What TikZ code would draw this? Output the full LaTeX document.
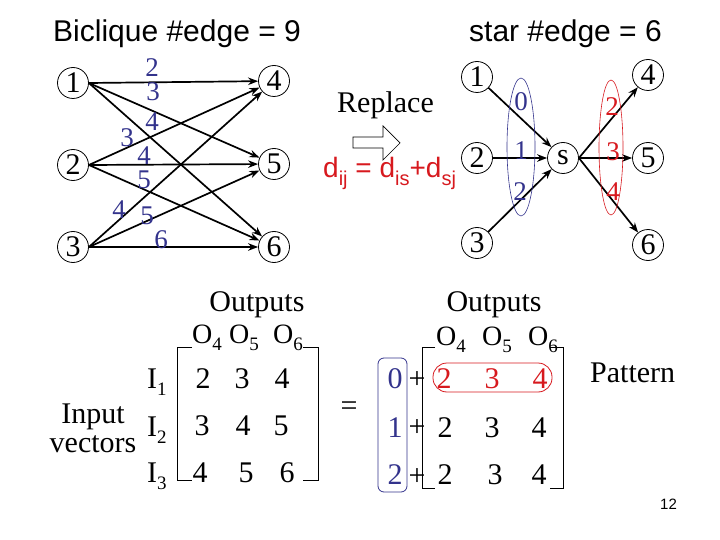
\documentclass[tikz,border=0pt]{standalone}
\usepackage{fontspec}
\setmainfont{Liberation Serif}
\newfontfamily\arial{Liberation Sans}
\usetikzlibrary{arrows.meta,shapes.geometric}
\definecolor{myblue}{RGB}{51,51,140}
\definecolor{myred}{RGB}{215,25,30}
\newcommand\dn[1]{\raisebox{-7pt}{\fontsize{19}{19}\selectfont #1}}
\newcommand\sdn[1]{\raisebox{-8pt}{\fontsize{20}{20}\selectfont #1}}
\newcommand\fsz[1]{\fontsize{#1}{#1}\selectfont}
\tikzset{
  vert/.style={circle, draw, line width=0.8pt, minimum size=31pt, inner sep=0pt, font=\fsz{30}},
  arr/.style={line width=1.7pt, -{Stealth[length=10pt,width=7.5pt]}},
  bl/.style={text=myblue, font=\fsz{27}, inner sep=0pt},
  rd/.style={text=myred, font=\fsz{27}, inner sep=0pt},
  txt/.style={font=\fsz{30}, inner sep=0pt, anchor=base},
  otxt/.style={font=\fsz{28}, inner sep=0pt, anchor=base west},
  sanstxt/.style={font=\arial\fsz{30}, inner sep=0pt},
  brk/.style={line width=1pt},
}
\begin{document}
\begin{tikzpicture}[x=1pt,y=-1pt]
\useasboundingbox (0,0) rectangle (720,540);

% titles
\node[sanstxt, anchor=base west] (t1) at (53,42) {Biclique \#edge = 9};
\node[sanstxt, anchor=base east] (t2) at (662,42) {star \#edge = 6};

% biclique
\node[vert] (a1) at (73,83) {1};
\node[vert] (a2) at (73,165) {2};
\node[vert] (a3) at (73,247) {3};
\node[vert] (b4) at (274,81) {4};
\node[vert] (b5) at (274,164) {5};
\node[vert] (b6) at (274,247) {6};
\foreach \s in {a1,a2,a3}{
  \foreach \t in {b4,b5,b6}{
    \draw[arr] (\s.east) -- (\t);
  }
}
\node[bl] (l14) at (152,68) {2};
\node[bl] (l15) at (153,92) {3};
\node[bl] (l16) at (152,122) {4};
\node[bl] (l24) at (127,138) {3};
\node[bl] (l25) at (144,156) {4};
\node[bl] (l26) at (144,180) {5};
\node[bl] (l34) at (119,210) {4};
\node[bl] (l35) at (147,216) {5};
\node[bl] (l36) at (161,240) {6};

% replace
\node[txt, anchor=base west] (rep) at (337,113) {Replace};
\draw[line width=0.7pt] (353,137) -- (383,137) -- (383,126) -- (400,143) -- (383,160) -- (383,148) -- (353,148) -- cycle;
\node[font=\arial\fsz{28}, text=myred, inner sep=0pt, anchor=base west] (form) at (323,178) {d\sdn{ij} = d\sdn{is}+d\sdn{sj}};

% star
\node[vert] (c1) at (477,77) {1};
\node[vert] (c2) at (477,158) {2};
\node[vert] (c3) at (477,243) {3};
\node[vert] (s) at (563,158) {s};
\node[vert] (d4) at (648,75) {4};
\node[vert] (d5) at (648,158) {5};
\node[vert] (d6) at (648,245) {6};
\draw[arr] (c1) -- (s);
\draw[arr] (c2) -- (s);
\draw[arr] (c3) -- (s);
\draw[arr] (s.east) -- (d4);
\draw[arr] (s.east) -- (d5);
\draw[arr] (s.east) -- (d6);
\draw[myblue, line width=0.6pt] (521,147) ellipse [x radius=14, y radius=69];
\draw[myred, line width=0.6pt] (611,147.5) ellipse [x radius=12, y radius=67.5];
\node[bl] (w0) at (521,102) {0};
\node[bl] (w1) at (521,151) {1};
\node[bl] (w2) at (520,192) {2};
\node[rd] (v2) at (612,107) {2};
\node[rd] (v3) at (613,152) {3};
\node[rd] (v4) at (613,192) {4};

% left matrix
\node[txt] (out1) at (257,311) {Outputs};
\node[otxt] (o4a) at (192,343) {O\dn{4}};
\node[otxt] (o5a) at (229,343) {O\dn{5}};
\node[otxt] (o6a) at (273,343) {O\dn{6}};
\draw[brk] (192,347) -- (177,347) -- (177,480) -- (192,480);
\draw[brk] (303,347) -- (318,347) -- (318,480) -- (303,480);
\node[txt, anchor=base west] (i1) at (147,388) {I\dn{1}};
\node[txt, anchor=base west] (i2) at (147,436) {I\dn{2}};
\node[txt, anchor=base west] (i3) at (147,482) {I\dn{3}};
\node[txt] (inp) at (93,423) {Input};
\node[txt] (vec) at (93,452) {vectors};
\node[txt] (m11) at (203,388) {2};
\node[txt] (m12) at (242,388) {3};
\node[txt] (m13) at (282,388) {4};
\node[txt] (m21) at (202,435) {3};
\node[txt] (m22) at (243,435) {4};
\node[txt] (m23) at (281,435) {5};
\node[txt] (m31) at (200,482) {4};
\node[txt] (m32) at (246,482) {5};
\node[txt] (m33) at (287,482) {6};
\node[font=\fsz{30}, inner sep=0pt] (eq) at (349,409) {=};

% right matrix
\node[txt] (out2) at (494,311) {Outputs};
\node[otxt] (o4b) at (436,345) {O\dn{4}};
\node[otxt] (o5b) at (482,345) {O\dn{5}};
\node[otxt] (o6b) at (528,345) {O\dn{6}};
\draw[brk] (435,347) -- (422,347) -- (422,488) -- (435,488);
\draw[brk] (550,347) -- (563,347) -- (563,488) -- (550,488);
\draw[myblue, line width=0.8pt, rounded corners=6pt] (378,358) rectangle (407,492);
\draw[myred, line width=0.8pt, rounded corners=14pt] (433,363) rectangle (552,392);
\node[txt, text=myblue] (z0) at (395,388) {0};
\node[txt, text=myblue] (z1) at (395,437) {1};
\node[txt, text=myblue] (z2) at (395,484) {2};
\node[font=\fsz{30}, inner sep=0pt] (p1) at (417,380) {+};
\node[font=\fsz{30}, inner sep=0pt] (p2) at (417,428) {+};
\node[font=\fsz{30}, inner sep=0pt] (p3) at (417,477) {+};
\node[txt, text=myred] (r11) at (444,388) {2};
\node[txt, text=myred] (r12) at (492,388) {3};
\node[txt, text=myred] (r13) at (540,388) {4};
\node[txt] (r21) at (445,437) {2};
\node[txt] (r22) at (492,437) {3};
\node[txt] (r23) at (539,437) {4};
\node[txt] (r31) at (445,484) {2};
\node[txt] (r32) at (495,484) {3};
\node[txt] (r33) at (539,484) {4};
\node[txt, anchor=base west] (pat) at (590,382) {Pattern};

\node[font=\arial\fsz{15}, inner sep=0pt, anchor=base] (pg) at (668.5,509) {12};
\end{tikzpicture}
\end{document}
